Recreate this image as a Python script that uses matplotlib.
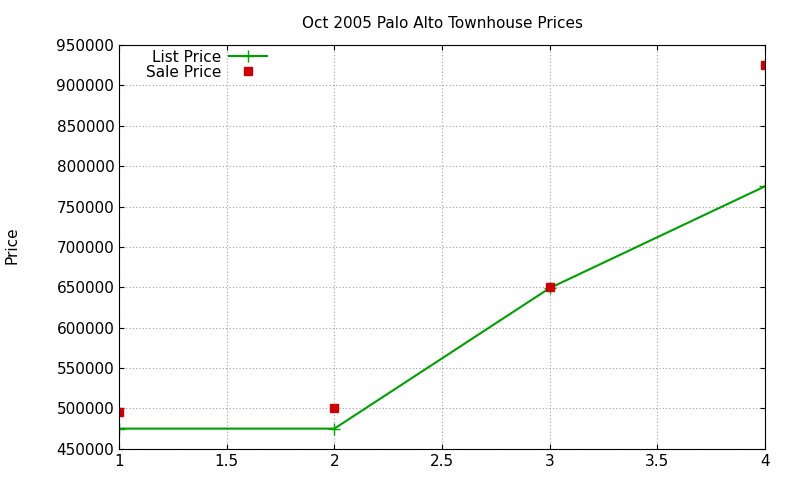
import matplotlib
matplotlib.use("Agg")
import matplotlib.pyplot as plt

x = [1, 2, 3, 4]
list_price = [475000, 475000, 649000, 775000]
sale_price = [495000, 500000, 650000, 925000]

fig = plt.figure(figsize=(8, 4.8), dpi=100)
ax = fig.add_axes([0.149, 0.065, 0.807, 0.841])

ax.plot(x, list_price, color="#00a000", marker="+", markersize=8, linewidth=1.5, label="List Price")
ax.plot(x, sale_price, color="#cc0000", marker="s", markersize=6, linestyle="none", label="Sale Price")

ax.set_xlim(1, 4)
ax.set_ylim(450000, 950000)
ax.set_xticks([1, 1.5, 2, 2.5, 3, 3.5, 4])
ax.set_xticklabels(["1", "1.5", "2", "2.5", "3", "3.5", "4"])
ax.set_yticks(range(450000, 950001, 50000))
ax.tick_params(direction="in", top=True, right=True, labelsize=11)
ax.grid(True, color="#a0a0a0", linestyle=(0, (1, 2)), linewidth=0.8)
ax.set_title("Oct 2005 Palo Alto Townhouse Prices", fontsize=11, pad=12)
fig.text(0.015, 0.49, "Price", rotation=90, fontsize=11, ha="center", va="center")

ax.legend(loc="upper left", bbox_to_anchor=(0.025, 1.015), markerfirst=False, frameon=False,
          fontsize=11, handlelength=2.5, borderpad=0.2, labelspacing=0.0, handletextpad=0.5)

fig.savefig("out.png", dpi=100)
